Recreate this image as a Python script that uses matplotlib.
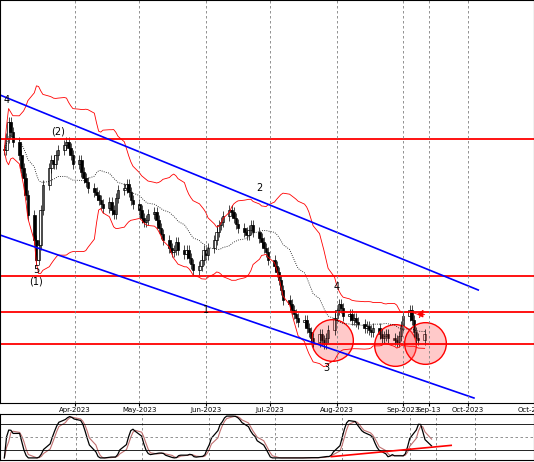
import matplotlib
matplotlib.use("Agg")
import matplotlib.pyplot as plt
import numpy as np
import pandas as pd
import matplotlib.dates as mdates

closes = [250,262,278,268,258,245,232,222,205,185,
          160,140,155,190,215,232,240,236,245,250,
          255,258,252,245,236,240,228,222,218,212,
          208,205,200,196,192,198,190,186,202,210,
          212,216,208,200,196,190,182,178,180,186,
          188,180,172,166,160,152,148,150,158,150,
          146,150,142,136,130,134,140,150,145,152,
          160,168,175,178,184,190,188,182,176,172,
          168,165,170,175,168,162,158,152,148,140,
          134,128,120,110,100,96,90,86,82,78,
          80,72,68,62,58,66,60,56,62,70,
          82,90,96,92,84,86,80,82,78,76,
          72,74,70,68,72,66,62,64,66,62,60,58,64,74,84,
          90,80,68,62,60,66]
dates = pd.bdate_range("2023-02-27", periods=len(closes))
hlines = [261, 124, 88, 56]
tick_dates = ["2023-04-01","2023-05-01","2023-06-01","2023-07-01","2023-08-01","2023-09-01","2023-09-13","2023-10-01","2023-11-01"]
tick_labels = ["Apr-2023","May-2023","Jun-2023","Jul-2023","Aug-2023","Sep-2023","Sep-13","Oct-2023","Oct-2023"]
channel_upper = (("2023-02-25", 305), ("2023-10-06", 110))
channel_lower = (("2023-02-25", 165), ("2023-10-04", 2))
circles = [("2023-07-30", 60), ("2023-08-28", 55), ("2023-09-11", 57)]
labels = [("2023-02-28", 300, "4"), ("2023-03-14", 130, "5"), ("2023-03-14", 118, "(1)"),
          ("2023-03-24", 268, "(2)"), ("2023-06-26", 212, "2"), ("2023-06-01", 90, "1"),
          ("2023-07-27", 32, "3"), ("2023-08-01", 113, "4")]

fig = plt.figure(figsize=(5.34, 4.62), dpi=100)
ax = fig.add_axes([0, 59/462, 1, 403/462])
ax2 = fig.add_axes([0, 2/462, 1, 46/462])
xn = mdates.date2num(dates)
c = np.array(closes, float)
o = np.r_[c[0], c[:-1]]
for xi, oi, ci in zip(xn, o, c):
    ax.vlines(xi, min(oi, ci) - 5, max(oi, ci) + 5, color="black", lw=0.5)
    ax.add_patch(plt.Rectangle((xi - 0.6, min(oi, ci)), 1.2, max(abs(ci - oi), 0.8),
                               facecolor="white" if ci >= oi else "black", edgecolor="black", lw=0.5))
s = pd.Series(c)
m = s.rolling(20, min_periods=1).mean()
sd = s.rolling(20, min_periods=2).std().fillna(0)
ax.plot(xn, m, color="black", ls=":", lw=0.6)
ax.plot(xn, m + 2 * sd, color="red", lw=0.6)
ax.plot(xn, m - 2 * sd, color="red", lw=0.6)
for y in hlines:
    ax.axhline(y, color="red", lw=1.3)
for (d0, y0), (d1, y1) in [channel_upper, channel_lower]:
    ax.plot(pd.to_datetime([d0, d1]), [y0, y1], color="blue", lw=1.2)
for d, y in circles:
    ax.scatter(pd.to_datetime(d), y, s=900, facecolor=(1, 0.4, 0.4, 0.35), edgecolor="red", lw=1)
for d, y, t in labels:
    ax.text(pd.to_datetime(d), y, t, fontsize=7, ha="center", va="center")
ax.annotate("", xy=(pd.to_datetime("2023-09-11"), 93), xytext=(pd.to_datetime("2023-09-08"), 80),
            arrowprops=dict(arrowstyle="-|>", color="red", lw=0.8))
xl = (pd.to_datetime("2023-02-25"), pd.to_datetime("2023-10-28"))
td = pd.to_datetime(tick_dates)
for a in (ax, ax2):
    a.set_xlim(xl)
    for t in td:
        a.axvline(t, color="gray", ls=(0, (3, 3)), lw=0.6)
    a.set_yticks([])
ax.set_ylim(-3, 400)
ax.set_xticks(td)
ax.set_xticklabels(tick_labels, fontsize=5)
ax.tick_params(axis="x", pad=1, length=2)
ax2.set_xticks([])
lo = s.rolling(14, min_periods=1).min()
hi = s.rolling(14, min_periods=1).max()
k = (100 * (s - lo) / (hi - lo).replace(0, 1)).rolling(5, min_periods=1).mean()
dd = k.rolling(3, min_periods=1).mean()
ax2.plot(xn, dd, color="#c07070", lw=0.8)
ax2.plot(xn, k, color="black", lw=0.9)
ax2.axhline(80, color="black", lw=0.6)
ax2.axhline(20, color="black", lw=0.6)
ax2.axhline(50, color="gray", ls=(0, (3, 3)), lw=0.6)
ax2.plot(pd.to_datetime(["2023-07-27", "2023-09-20"]), [3, 30], color="red", lw=1.2)
ax2.set_ylim(-5, 105)
fig.savefig("out.png", dpi=100)
